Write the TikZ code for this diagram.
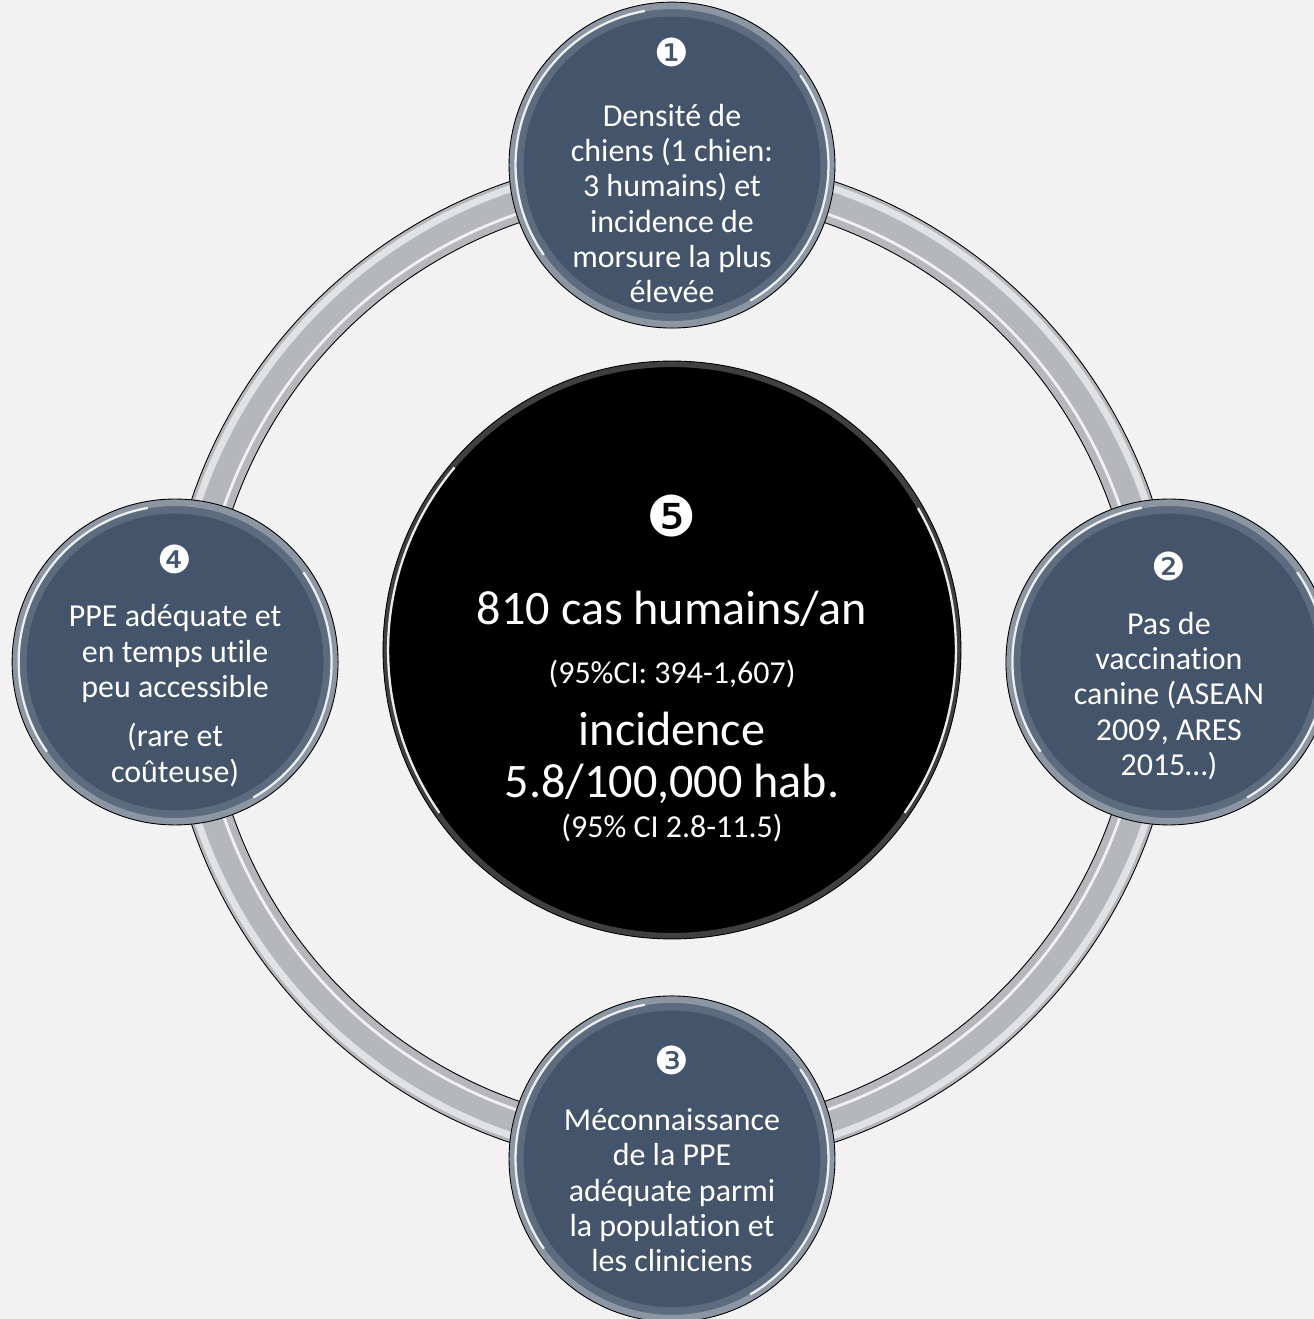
\documentclass[tikz,border=0pt]{standalone}
\usepackage{fontspec}
\setmainfont{Carlito}[Ligatures=NoCommon]
\newfontfamily\dingfont{DejaVu Sans}
\definecolor{slate}{HTML}{44546A}
\definecolor{paper}{HTML}{F2F2F2}
\definecolor{pipe}{HTML}{B5B7BB}
\newcommand\badge[1]{{\dingfont\fontsize{22}{22}\selectfont #1}}
\newcommand\bigbadge[1]{{\dingfont\fontsize{32}{32}\selectfont #1}}
\newcommand\largetxt[1]{{\fontsize{27.4}{30}\selectfont #1}}

\begin{document}
\begin{tikzpicture}[x=0.02cm,y=0.02cm,node distance=9.94cm,
    spot/.style={circle,draw=black,line width=0.5pt,fill=slate,minimum size=6.52cm,inner sep=-1cm,
      text=white,align=center,font=\fontsize{18.2}{20.1}\selectfont,
      path picture={
        \draw[white!45!slate,line width=0.3cm,opacity=0.3] (path picture bounding box.center) circle (3.12cm);
        \draw[white!45!slate,line width=0.14cm,opacity=0.8] (path picture bounding box.center) circle (3.19cm);
        \draw[white,line width=1.3pt,opacity=0.85] ([shift={(100:3.13cm)}]path picture bounding box.center)
          arc[start angle=100,end angle=215,radius=3.13cm];
        \draw[white,line width=1.3pt,opacity=0.85] ([shift={(-60:3.13cm)}]path picture bounding box.center)
          arc[start angle=-60,end angle=35,radius=3.13cm];
      }},
    hub/.style={circle,draw=black,line width=0.5pt,fill=black,minimum size=11.56cm,inner sep=-1cm,
      text=white,align=center,font=\fontsize{18.2}{19.8}\selectfont,
      path picture={
        \draw[gray,line width=0.12cm,opacity=0.5] (path picture bounding box.center) circle (5.72cm);
        \draw[white,line width=1.3pt,opacity=0.9] ([shift={(140:5.68cm)}]path picture bounding box.center)
          arc[start angle=140,end angle=215,radius=5.68cm];
        \draw[white,line width=1.3pt,opacity=0.9] ([shift={(-35:5.68cm)}]path picture bounding box.center)
          arc[start angle=-35,end angle=30,radius=5.68cm];
      }}]
    \clip (0,0) rectangle (1314,1319);
    \fill[paper] (0,0) rectangle (1314,1319);

    % the ring behind the circles
    \coordinate (ring) at (672,657);
    \draw[pipe,line width=0.84cm] (ring) circle (486);
    \draw[white!60!pipe,line width=0.14cm] (ring) circle (500);
    \draw[white,line width=1.6pt,opacity=0.8] (ring) circle (474);
    \draw[black,line width=0.5pt] (ring) circle (507) (ring) circle (465);

    \node[spot] (dens) [above of=ring] {\rule{0pt}{22.7pt}\badge{❶}\\[13.7pt]
        Densité de\\chiens (1 chien:\\3 humains) et\\incidence de\\morsure la plus\\élevée};
    \node[spot] (vacc) [right of=ring] {\rule{0pt}{21pt}\badge{❷}\\[10.3pt]
        Pas de\\vaccination\\canine (ASEAN\\2009, ARES\\2015…)};
    \node[spot] (conn) [below of=ring] {\badge{❸}\\[12pt]
        Méconnaissance\\de la PPE\\adéquate parmi\\la population et\\les cliniciens};
    \node[spot] (ppe) [left of=ring] {\rule{0pt}{20.4pt}\badge{❹}\\[10.3pt]
        PPE adéquate et\\en temps utile\\peu accessible\\[8pt]
        (rare et\\coûteuse)};

    \node[hub] (cases) at (672,669) {\rule{0pt}{45pt}\bigbadge{❺}\\[30pt]
        \largetxt{810 cas humains/an}\\[14pt]
        (95\%CI: 394-1,607)\\[12.3pt]
        \largetxt{incidence}\\[10.3pt]
        \largetxt{5.8/100,000 hab.}\\[2.8pt]
        (95\% CI 2.8-11.5)};
\end{tikzpicture}
\end{document}
